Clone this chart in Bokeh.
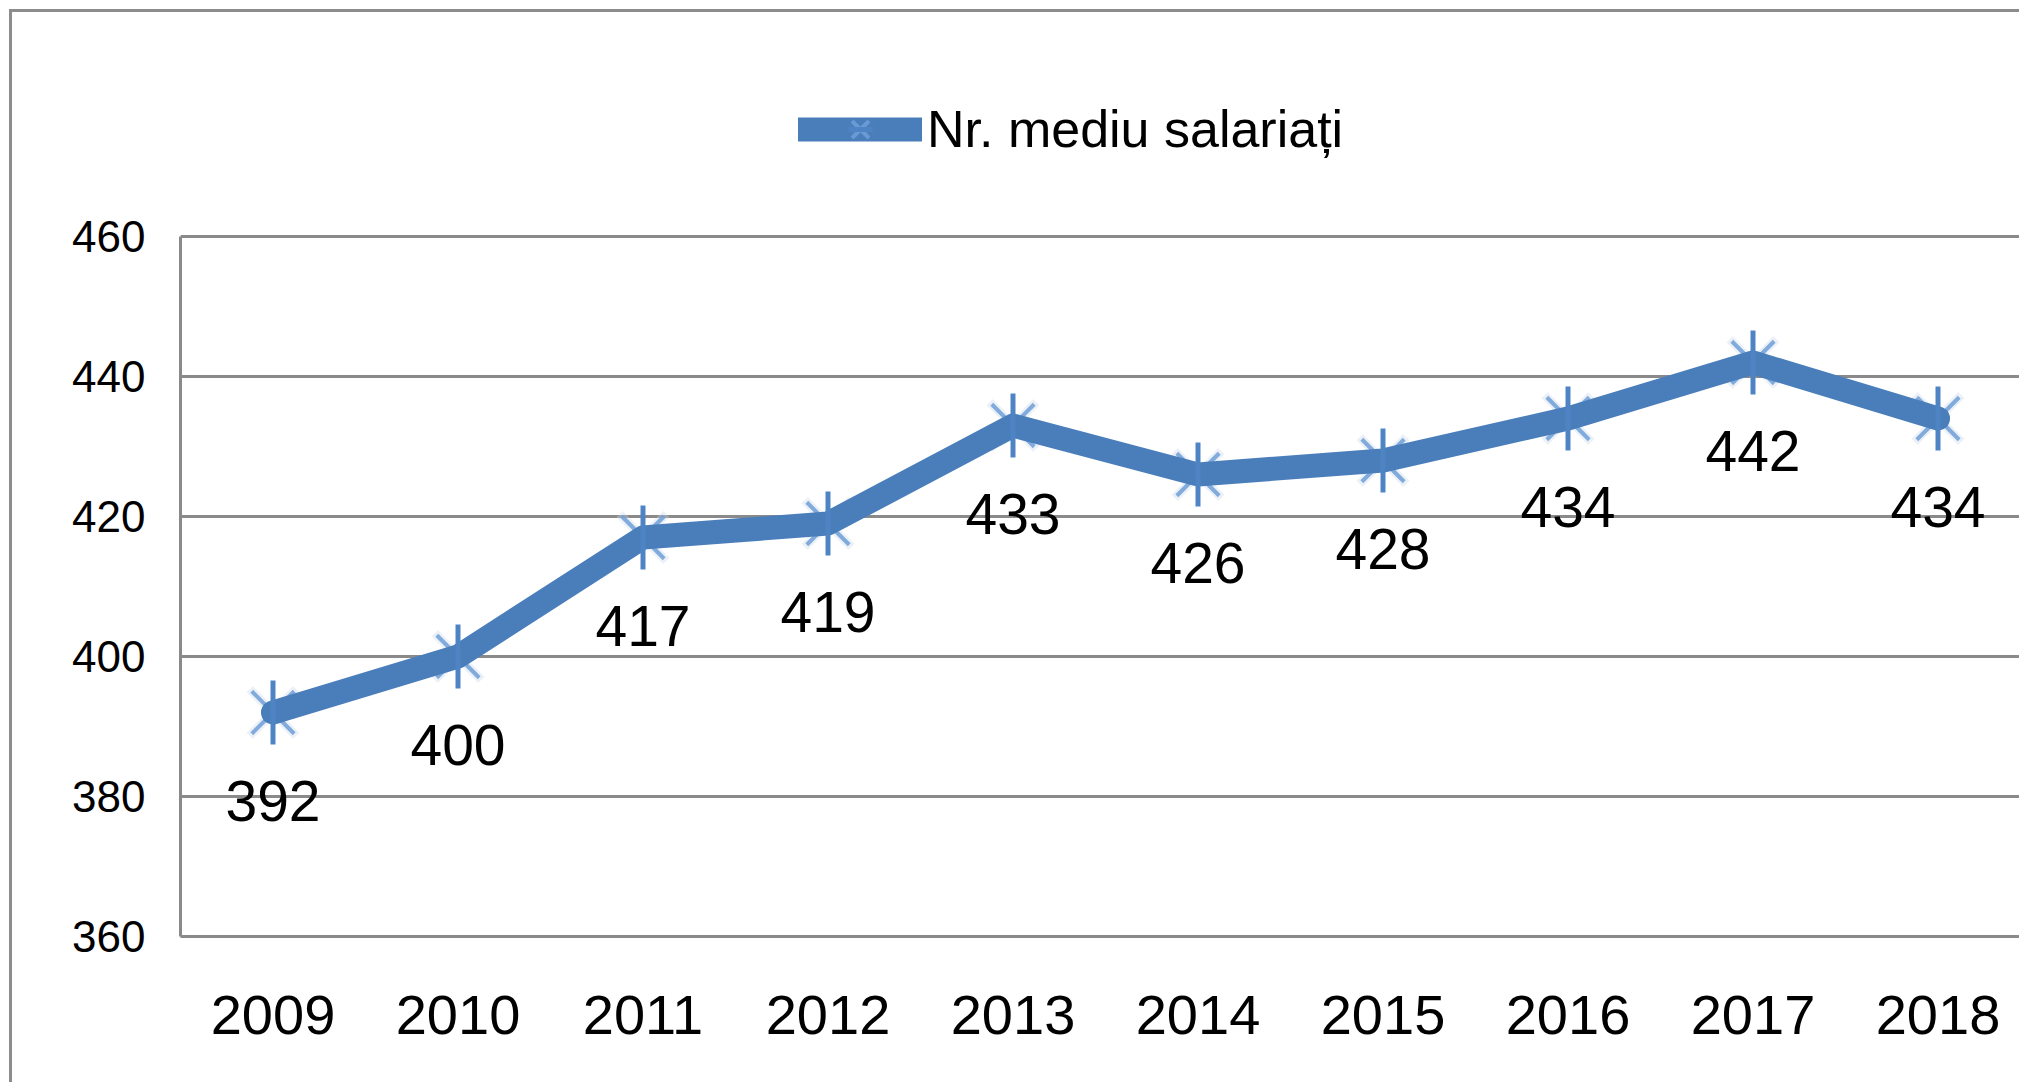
import numpy as np
from bokeh.plotting import figure
from bokeh.models import Range1d, FixedTicker, Legend, LegendItem, ColumnDataSource
from bokeh.core.properties import value
from bokeh.embed import file_html
from bokeh.resources import INLINE

# ---- data ----
years = ["2009", "2010", "2011", "2012", "2013", "2014", "2015", "2016", "2017", "2018"]
employees = [392, 400, 417, 419, 433, 426, 428, 434, 442, 434]
y_ticks = [360, 380, 400, 420, 440, 460]
series_name = "Nr. mediu salariați"

FONT = "Liberation Sans"
BLUE = "#4a7ebb"
GRID = "#8a8a8a"

xs = list(range(len(years)))
src = ColumnDataSource(dict(x=xs, y=employees, label=[str(v) for v in employees]))

# frame: x from 180px to right edge, y from top of page to 936px (7 px per unit)
p = figure(
    frame_width=1839, frame_height=936,
    min_border_left=180, min_border_right=0, min_border_top=0, min_border_bottom=146,
    x_range=Range1d(-0.5, -0.5 + 1839 / 185), y_range=Range1d(360, 360 + 936 / 7),
    output_backend="svg", toolbar_location=None,
)
p.outline_line_color = None
p.border_fill_color = None
p.background_fill_color = None
p.styles = {
    "background-image": "linear-gradient(#8c8c8c,#8c8c8c), linear-gradient(#8c8c8c,#8c8c8c)",
    "background-size": "3px 100%, 100% 3px",
    "background-position": "9px 9px, 9px 9px",
    "background-repeat": "no-repeat",
}

# axes
p.yaxis.ticker = FixedTicker(ticks=y_ticks)
p.yaxis.bounds = (360, 460)
p.xaxis.ticker = FixedTicker(ticks=xs)
p.xaxis.major_label_overrides = {i: y for i, y in enumerate(years)}
for ax in (p.xaxis[0], p.yaxis[0]):
    ax.axis_line_color = GRID
    ax.axis_line_width = 3
    ax.major_tick_line_color = None
    ax.minor_tick_line_color = None
    ax.major_tick_in = 0
    ax.major_tick_out = 0
    ax.major_label_text_font = FONT
    ax.major_label_text_color = "black"
p.xaxis.major_label_text_font_size = "56px"
p.xaxis.major_label_standoff = 59
p.yaxis.major_label_text_font_size = "44px"
p.yaxis.major_label_standoff = 35

p.xgrid.grid_line_color = None
p.ygrid.ticker = FixedTicker(ticks=y_ticks)
p.ygrid.grid_line_color = GRID
p.ygrid.grid_line_width = 3

# series
glow_r = p.scatter("x", "y", source=src, marker="x", size=66, line_color="#c8d6e8",
                   line_width=9, line_alpha=0.35)
x_r = p.scatter("x", "y", source=src, marker="x", size=60, line_color="#6f9fd8",
                line_width=4, line_alpha=0.85)
line_r = p.line("x", "y", source=src, line_width=24, line_color=BLUE,
                line_join="round", line_cap="round")
v_r = p.scatter("x", "y", source=src, marker="dash", angle=np.pi / 2, size=64,
                line_color="#4f84c4", line_width=5)

p.text("x", "y", text="label", source=src, text_align="center", text_baseline="middle",
       y_offset=88, text_font=value(FONT), text_font_size="57px", text_color="black")

legend = Legend(
    items=[LegendItem(label=series_name, renderers=[line_r, x_r, v_r])],
    location=(618, 777), orientation="horizontal",
    glyph_width=124, glyph_height=60, label_height=60, label_standoff=5,
    label_text_font=FONT, label_text_font_size="52px", label_text_color="black",
    border_line_color=None, background_fill_alpha=0, padding=0, margin=0,
)
p.add_layout(legend)

open("out.html", "w").write(file_html(p, INLINE))
